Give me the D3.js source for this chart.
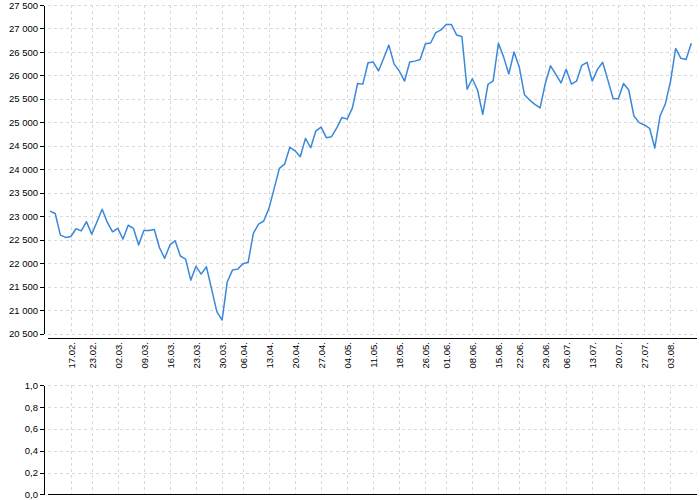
<!DOCTYPE html>
<html>
<head>
<meta charset="utf-8">
<script src="https://cdn.jsdelivr.net/npm/d3@7"></script>
<style>
  html, body { margin: 0; padding: 0; background: #fff; }
  svg { display: block; font-family: "DejaVu Sans", Verdana, sans-serif; }
  .grid line { stroke: #d9d9d9; stroke-width: 1; stroke-dasharray: 3,3; shape-rendering: crispEdges; }
  .axis path, .axis line { stroke: #000; shape-rendering: crispEdges; }
  .axis text { fill: #000; font-size: 9.5px; }
</style>
</head>
<body>
<svg id="chart" width="700" height="500"></svg>
<script>
// ---- data ----
const values = [
  23110, 23060, 22600, 22550, 22570, 22735, 22690, 22885, 22620, 22880,
  23150, 22870, 22670, 22745, 22515, 22810, 22745, 22390, 22700, 22700,
  22720, 22330, 22105, 22390, 22480, 22155, 22090, 21640, 21935, 21770,
  21925, 21450, 20970, 20790, 21605, 21855, 21875, 21990, 22020, 22635,
  22835, 22900, 23170, 23595, 24020, 24110, 24470, 24395, 24270, 24660,
  24460, 24820, 24900, 24675, 24695, 24885, 25105, 25070, 25310, 25830,
  25815, 26270, 26285, 26095, 26365, 26645, 26240, 26095, 25880, 26285,
  26305, 26340, 26675, 26690, 26910, 26970, 27085, 27085, 26860, 26830,
  25705, 25930, 25690, 25170, 25810, 25885, 26685, 26395, 26030, 26500,
  26180, 25590, 25475, 25385, 25310, 25830, 26205, 26030, 25840, 26130,
  25815, 25880, 26215, 26280, 25880, 26130, 26280, 25900, 25510, 25505,
  25830, 25690, 25135, 24995, 24945, 24875, 24455, 25135, 25385, 25865,
  26575, 26365, 26340, 26685
];
const tickIndex = [4, 8, 13, 18, 23, 28, 33, 37, 42, 47, 52, 57, 62, 67, 72, 76, 81, 86, 90, 95, 99, 104, 109, 114, 119];
const tickLabels = ["17.02.", "23.02.", "02.03.", "09.03.", "16.03.", "23.03.", "30.03.", "06.04.", "13.04.", "20.04.",
  "27.04.", "04.05.", "11.05.", "18.05.", "26.05.", "01.06.", "08.06.", "15.06.", "22.06.", "29.06.",
  "06.07.", "13.07.", "20.07.", "27.07.", "03.08."];
const yTicksTop = [20500, 21000, 21500, 22000, 22500, 23000, 23500, 24000, 24500, 25000, 25500, 26000, 26500, 27000, 27500];
const yTicksBottom = [0, 0.2, 0.4, 0.6, 0.8, 1.0];

// ---- layout ----
const yAxisX = 44, gridLeft = 48, gridRight = 697;
const topY0 = 333.7, topY1 = 5, xAxisTopY = 338;
const botY0 = 494.3, botY1 = 385.3;

const locale = d3.formatLocale({ decimal: ",", thousands: "\u00a0", grouping: [3], currency: ["", ""] });
const fmtInt = locale.format(",d");
const fmtDec = locale.format(".1f");

const svg = d3.select("#chart");

const x = d3.scaleLinear().domain([0, values.length - 1]).range([50, 691.3]);
const yTop = d3.scaleLinear().domain([20500, 27500]).range([topY0, topY1]);
const yBot = d3.scaleLinear().domain([0, 1]).range([botY0, botY1]);

const labelByIdx = new Map(tickIndex.map((t, i) => [t, tickLabels[i]]));

// ---- grids ----
function grid(yScale, yTicks, yLo, yHi) {
  const g = svg.append("g").attr("class", "grid");
  g.selectAll("line.h").data(yTicks).join("line").attr("class", "h")
    .attr("x1", gridLeft).attr("x2", gridRight)
    .attr("y1", d => Math.round(yScale(d)) + 0.5).attr("y2", d => Math.round(yScale(d)) + 0.5);
  g.selectAll("line.v").data(tickIndex).join("line").attr("class", "v")
    .attr("x1", d => Math.round(x(d)) + 0.5).attr("x2", d => Math.round(x(d)) + 0.5)
    .attr("y1", yHi).attr("y2", yLo);
}
grid(yTop, yTicksTop, topY0, topY1);
grid(yBot, yTicksBottom, botY0, botY1);

// ---- y axes ----
svg.append("g").attr("class", "axis").attr("transform", `translate(${yAxisX},0)`)
  .call(d3.axisLeft(yTop).tickValues(yTicksTop).tickFormat(fmtInt).tickSizeInner(4).tickSizeOuter(0).tickPadding(2));
svg.append("g").attr("class", "axis").attr("transform", `translate(${yAxisX},0)`)
  .call(d3.axisLeft(yBot).tickValues(yTicksBottom).tickFormat(fmtDec).tickSizeInner(4).tickSizeOuter(0).tickPadding(2));

// ---- x axes ----
const xAxisScale = x.copy().domain(x.domain()).range(x.range());
const xTop = svg.append("g").attr("class", "axis").attr("transform", `translate(0,${xAxisTopY})`)
  .call(d3.axisBottom(xAxisScale).tickValues(tickIndex).tickFormat(d => labelByIdx.get(d)).tickSize(0).tickPadding(0));
xTop.select(".domain").attr("d", `M${gridLeft},0.5H${gridRight}`);
xTop.selectAll(".tick text")
  .attr("transform", "rotate(-90)")
  .attr("text-anchor", "end")
  .attr("x", -4)
  .attr("y", 0)
  .attr("dy", "0.35em");

const xBot = svg.append("g").attr("class", "axis").attr("transform", `translate(0,${botY0})`)
  .call(d3.axisBottom(xAxisScale).tickValues([]).tickSize(0));
xBot.select(".domain").attr("d", `M${gridLeft},0.5H${gridRight}`);

// ---- line ----
const line = d3.line().x((d, i) => x(i)).y(d => yTop(d));
svg.append("path").datum(values)
  .attr("fill", "none")
  .attr("stroke", "#3a88da")
  .attr("stroke-width", 1.5)
  .attr("stroke-linejoin", "round")
  .attr("d", line);
</script>
</body>
</html>
